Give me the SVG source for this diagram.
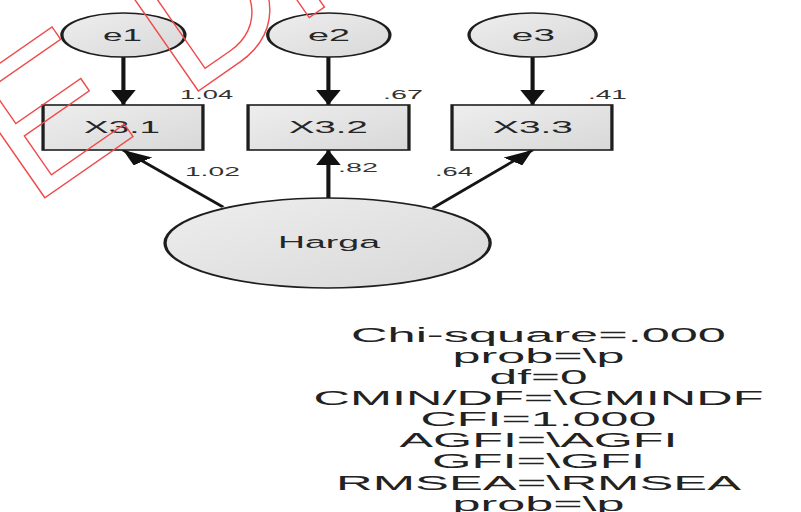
<svg xmlns="http://www.w3.org/2000/svg" width="801" height="512" viewBox="0 0 801 512">
  <defs>
    <linearGradient id="shade" x1="0" y1="0" x2="1" y2="1">
      <stop offset="0" stop-color="#eeeeee"/>
      <stop offset="1" stop-color="#d8d8d8"/>
    </linearGradient>
    <marker id="head" viewBox="0 0 15 12" refX="15" refY="6" markerWidth="15" markerHeight="12" orient="auto" markerUnits="userSpaceOnUse">
      <path d="M0,0 L15,6 L0,12 z" fill="#111"/>
    </marker>
    <style>
      .shape { fill: url(#shade); stroke: #1e1e1e; stroke-width: 1.6; }
      .link { stroke: #151515; stroke-width: 2; fill: none; marker-end: url(#head); }
      .lbl { font-family: 'Liberation Sans', Arial, sans-serif; fill: #262626; text-anchor: middle; lengthAdjust: spacingAndGlyphs; }
      .node { font-size: 17px; }
      .num { font-family: 'Liberation Sans', Arial, sans-serif; fill: #333; font-size: 12px; }
      .fit { font-family: 'Liberation Sans', Arial, sans-serif; fill: #222; font-size: 21px; text-anchor: middle; }
      .mark { font-family: 'Liberation Sans', Arial, sans-serif; font-size: 198px; fill: none; stroke: #ef4b4b; stroke-width: 1.4; }
    </style>
  </defs>

  <rect width="801" height="512" fill="#ffffff"/>

  <!-- path model, drawn at half width and stretched sideways -->
  <g transform="scale(2.05,1)">
    <g id="connectors">
      <line class="link" x1="60.2" y1="57" x2="60.2" y2="105"/>
      <line class="link" x1="160.2" y1="57" x2="160.2" y2="105"/>
      <line class="link" x1="259.8" y1="57" x2="259.8" y2="105"/>
      <line class="link" x1="108.8" y1="207" x2="60" y2="150"/>
      <line class="link" x1="160.2" y1="198" x2="160.2" y2="150"/>
      <line class="link" x1="211.2" y1="208" x2="259.8" y2="150"/>
    </g>

    <g id="e1">
      <ellipse class="shape" cx="60.2" cy="35" rx="30" ry="22"/>
      <text class="lbl node" x="59.8" y="41" textLength="19" lengthAdjust="spacingAndGlyphs">e1</text>
    </g>
    <g id="e2">
      <ellipse class="shape" cx="160.4" cy="35" rx="29.8" ry="22"/>
      <text class="lbl node" x="160.5" y="41" textLength="20.5" lengthAdjust="spacingAndGlyphs">e2</text>
    </g>
    <g id="e3">
      <ellipse class="shape" cx="259.8" cy="35" rx="31" ry="22"/>
      <text class="lbl node" x="260.2" y="41" textLength="21" lengthAdjust="spacingAndGlyphs">e3</text>
    </g>

    <g id="X3.1">
      <rect class="shape" x="21" y="105" width="78" height="45"/>
      <text class="lbl node" x="59.5" y="133" textLength="37" lengthAdjust="spacingAndGlyphs">X3.1</text>
    </g>
    <g id="X3.2">
      <rect class="shape" x="121" y="105" width="78.5" height="45"/>
      <text class="lbl node" x="160.2" y="133" textLength="38.5" lengthAdjust="spacingAndGlyphs">X3.2</text>
    </g>
    <g id="X3.3">
      <rect class="shape" x="220.5" y="105" width="78" height="45"/>
      <text class="lbl node" x="260" y="133" textLength="39" lengthAdjust="spacingAndGlyphs">X3.3</text>
    </g>

    <g id="Harga">
      <ellipse class="shape" cx="159.8" cy="243" rx="79.3" ry="45"/>
      <text class="lbl node" x="160.5" y="248" textLength="49.8" lengthAdjust="spacingAndGlyphs">Harga</text>
    </g>

    <g id="estimates">
      <text class="num" x="87.8" y="99" textLength="25.9" lengthAdjust="spacingAndGlyphs">1.04</text>
      <text class="num" x="186.8" y="99" textLength="19.5" lengthAdjust="spacingAndGlyphs">.67</text>
      <text class="num" x="286.8" y="99" textLength="19" lengthAdjust="spacingAndGlyphs">.41</text>
      <text class="num" x="90.2" y="176" textLength="26.8" lengthAdjust="spacingAndGlyphs">1.02</text>
      <text class="num" x="164.9" y="172" textLength="19.5" lengthAdjust="spacingAndGlyphs">.82</text>
      <text class="num" x="212.2" y="176" textLength="18.5" lengthAdjust="spacingAndGlyphs">.64</text>
    </g>

    <g id="fit-summary">
      <text class="fit" x="262.7" y="342" textLength="182.9" lengthAdjust="spacingAndGlyphs">Chi-square=.000</text>
      <text class="fit" x="262.7" y="363" textLength="83.9" lengthAdjust="spacingAndGlyphs">prob=\p</text>
      <text class="fit" x="262.7" y="384" textLength="47.8" lengthAdjust="spacingAndGlyphs">df=0</text>
      <text class="fit" x="262.7" y="405" textLength="219.5" lengthAdjust="spacingAndGlyphs">CMIN/DF=\CMINDF</text>
      <text class="fit" x="262.7" y="426" textLength="115.1" lengthAdjust="spacingAndGlyphs">CFI=1.000</text>
      <text class="fit" x="262.7" y="447" textLength="135.6" lengthAdjust="spacingAndGlyphs">AGFI=\AGFI</text>
      <text class="fit" x="262.7" y="468" textLength="103.9" lengthAdjust="spacingAndGlyphs">GFI=\GFI</text>
      <text class="fit" x="262.7" y="490" textLength="197.6" lengthAdjust="spacingAndGlyphs">RMSEA=\RMSEA</text>
      <text class="fit" x="262.7" y="511" textLength="83.9" lengthAdjust="spacingAndGlyphs">prob=\p</text>
    </g>
  </g>

  <!-- outlined stamp lettering across the upper left -->
  <g id="stamp" transform="translate(43,199) rotate(-34.8)">
    <text class="mark"><tspan x="-14" y="0">E</tspan><tspan x="173" y="0">D</tspan><tspan x="304" y="3">I</tspan></text>
  </g>
</svg>
